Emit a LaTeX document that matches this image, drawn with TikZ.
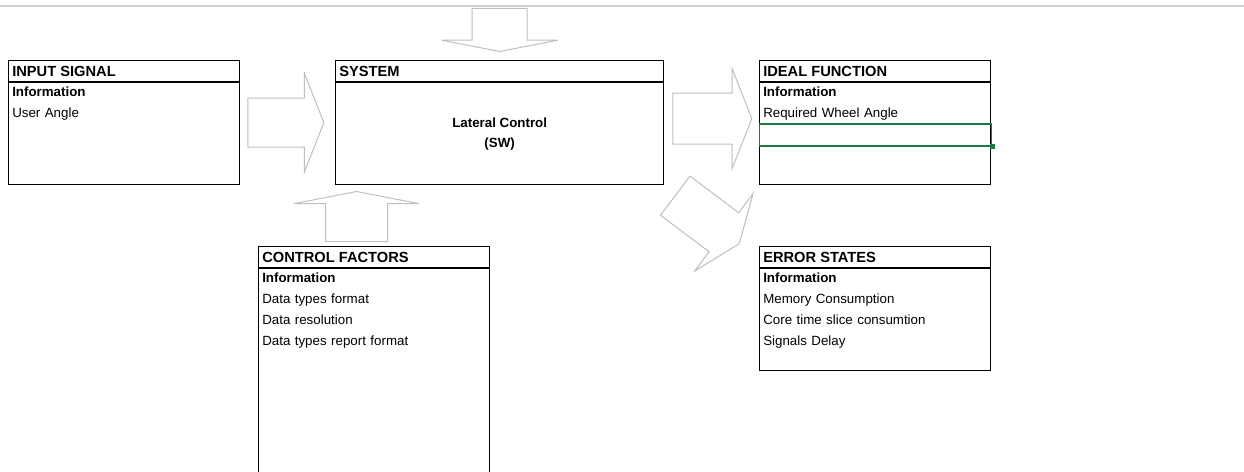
\documentclass[tikz,border=0pt]{standalone}
\usepackage{fontspec}
\setmainfont{Liberation Sans}
\usepackage{tikz}
\usetikzlibrary{shapes.arrows, positioning, calc}
\definecolor{arrowGray}{HTML}{BFBFBF}
\definecolor{ruleGray}{HTML}{D0D0D0}
\definecolor{selGreen}{HTML}{1E7B45}

\begin{document}
\begin{tikzpicture}[x=0.75pt, y=-0.75pt,
        panel/.style={draw=black, line width=1pt, anchor=north west, inner sep=0pt,
            minimum width=173.25pt, minimum height=93pt},
        hdr/.style={anchor=west, inner sep=0pt, font=\fontsize{11}{13}\selectfont\bfseries},
        hline/.style={line width=1pt},
        cellrow/.style={anchor=north west, text width=167.25pt, inner xsep=3pt, inner ysep=0pt,
            minimum height=15.4pt, text height=7.5pt, text depth=2.2pt, font=\fontsize{10}{12}\selectfont},
        selcell/.style={draw=selGreen, line width=1.1pt, inner sep=0pt, anchor=north west,
            minimum width=174pt, minimum height=16.5pt},
        grip/.style={fill=selGreen, inner sep=0pt, minimum size=3.2pt},
        blk/.style={single arrow, draw=arrowGray, fill=white, line width=0.75pt, inner xsep=0pt},
        blkh/.style={blk, inner ysep=18pt, single arrow head extend=18.5pt, single arrow tip angle=137},
        blkv/.style={blk, single arrow tip angle=158}
    ]
        \useasboundingbox (0,0) rectangle (1244,471);
        \clip (0,0) rectangle (1244,471);
        \draw[ruleGray, line width=1.5pt] (0,6) -- (1244,6);

        \node[panel] (inp) at (8,60) {};
        \draw[hline] ([yshift=-16.5pt]inp.north west) -- ([yshift=-16.5pt]inp.north east);
        \node[hdr] (inphdr) at ([xshift=3pt, yshift=-8.25pt]inp.north west) {INPUT SIGNAL};
        \node[cellrow] (inpinfo) at ([yshift=-16.5pt]inp.north west) {\textbf{Information}};
        \node[cellrow, below=0pt of inpinfo] (inpangle) {User Angle};

        \node[panel, minimum width=246pt] (sys) at (335,60) {};
        \draw[hline] ([yshift=-16.5pt]sys.north west) -- ([yshift=-16.5pt]sys.north east);
        \node[hdr] (syshdr) at ([xshift=3pt, yshift=-8.25pt]sys.north west) {SYSTEM};
        \node[align=center, font=\fontsize{10}{15}\selectfont\bfseries]
            (syscore) at ($(sys.south)!0.5!([yshift=-16.5pt]sys.north)$) {Lateral Control\\(SW)};

        \node[panel] (ideal) at (759,60) {};
        \draw[hline] ([yshift=-16.5pt]ideal.north west) -- ([yshift=-16.5pt]ideal.north east);
        \node[hdr] (idealhdr) at ([xshift=3pt, yshift=-8.25pt]ideal.north west) {IDEAL FUNCTION};
        \node[cellrow] (idealinfo) at ([yshift=-16.5pt]ideal.north west) {\textbf{Information}};
        \node[cellrow, below=0pt of idealinfo] (idealreq) {Required Wheel Angle};
        \node[selcell] (idealsel) at ([yshift=0.75pt]idealreq.south west) {};
        \node[grip] (idealgrip) at (idealsel.south east) {};

        \node[panel, minimum height=200pt] (ctrl) at (258,246) {};
        \draw[hline] ([yshift=-16.5pt]ctrl.north west) -- ([yshift=-16.5pt]ctrl.north east);
        \node[hdr] (ctrlhdr) at ([xshift=3pt, yshift=-8.25pt]ctrl.north west) {CONTROL FACTORS};
        \node[cellrow] (ctrlinfo) at ([yshift=-16.5pt]ctrl.north west) {\textbf{Information}};
        \node[cellrow, below=0pt of ctrlinfo] (ctrlfmt) {Data types format};
        \node[cellrow, below=0pt of ctrlfmt] (ctrlres) {Data resolution};
        \node[cellrow, below=0pt of ctrlres] (ctrlrep) {Data types report format};

        \node[panel] (err) at (759,246) {};
        \draw[hline] ([yshift=-16.5pt]err.north west) -- ([yshift=-16.5pt]err.north east);
        \node[hdr] (errhdr) at ([xshift=3pt, yshift=-8.25pt]err.north west) {ERROR STATES};
        \node[cellrow] (errinfo) at ([yshift=-16.5pt]err.north west) {\textbf{Information}};
        \node[cellrow, below=0pt of errinfo] (errmem) {Memory Consumption};
        \node[cellrow, below=0pt of errmem] (errcore) {Core time slice consumtion};
        \node[cellrow, below=0pt of errcore] (errdelay) {Signals Delay};

        \node[blkh, minimum height=57pt, right=5.25pt of inp] (arrin) {};
        \node[blkh, inner ysep=18.75pt, minimum height=59.25pt, right=6pt of sys, yshift=3pt] (arrideal) {};
        \node[blkh, single arrow head extend=18pt, minimum height=60pt,
            rotate=-37, anchor=tail] (arrerr) at ([xshift=7.9pt, yshift=-7.5pt]sys.south east) {};
        \node[blkv, inner ysep=22.9pt, single arrow head extend=23.6pt, minimum height=37.5pt,
            rotate=90, anchor=tail] (arrctrl) at ([xshift=73.9pt, yshift=3pt]ctrl.north west) {};
        \node[blkv, inner ysep=20.25pt, single arrow head extend=22.9pt, minimum height=32.25pt,
            rotate=-90, anchor=tip] (arrtop) at ([yshift=6pt]sys.north) {};
    \end{tikzpicture}
\end{document}
